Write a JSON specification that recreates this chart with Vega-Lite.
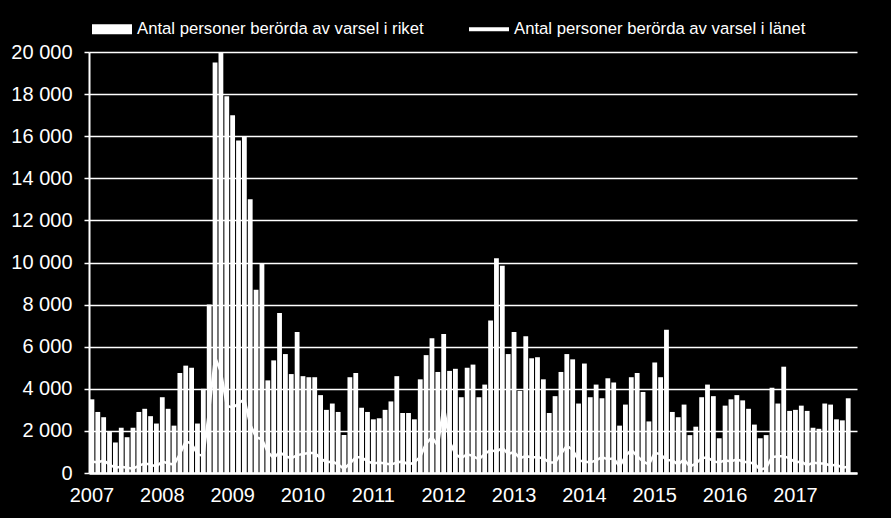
{
  "$schema": "https://vega.github.io/schema/vega-lite/v6.json",
  "width": 768,
  "height": 421,
  "autosize": {"type": "none"},
  "padding": {"left": 89, "top": 52, "right": 34, "bottom": 45},
  "background": "black",
  "config": {"view": {"stroke": null}, "font": "Liberation Sans"},
  "data": {"values": [
    {"m":"2007-01","riket":3500,"lan":550},{"m":"2007-02","riket":2900,"lan":500},{"m":"2007-03","riket":2650,"lan":600},{"m":"2007-04","riket":1950,"lan":400},{"m":"2007-05","riket":1450,"lan":250},{"m":"2007-06","riket":2150,"lan":300},{"m":"2007-07","riket":1700,"lan":250},{"m":"2007-08","riket":2150,"lan":200},{"m":"2007-09","riket":2900,"lan":350},{"m":"2007-10","riket":3050,"lan":450},{"m":"2007-11","riket":2700,"lan":400},{"m":"2007-12","riket":2350,"lan":300},
    {"m":"2008-01","riket":3600,"lan":550},{"m":"2008-02","riket":3050,"lan":450},{"m":"2008-03","riket":2250,"lan":400},{"m":"2008-04","riket":4750,"lan":900},{"m":"2008-05","riket":5100,"lan":1500},{"m":"2008-06","riket":5000,"lan":1400},{"m":"2008-07","riket":2350,"lan":900},{"m":"2008-08","riket":4000,"lan":800},{"m":"2008-09","riket":8000,"lan":3000},{"m":"2008-10","riket":19500,"lan":5500},{"m":"2008-11","riket":19950,"lan":4800},{"m":"2008-12","riket":17900,"lan":3200},
    {"m":"2009-01","riket":17000,"lan":3100},{"m":"2009-02","riket":15800,"lan":3300},{"m":"2009-03","riket":16000,"lan":3500},{"m":"2009-04","riket":13000,"lan":2300},{"m":"2009-05","riket":8700,"lan":1700},{"m":"2009-06","riket":9950,"lan":1600},{"m":"2009-07","riket":4400,"lan":1000},{"m":"2009-08","riket":5350,"lan":700},{"m":"2009-09","riket":7600,"lan":1000},{"m":"2009-10","riket":5650,"lan":800},{"m":"2009-11","riket":4700,"lan":700},{"m":"2009-12","riket":6700,"lan":850},
    {"m":"2010-01","riket":4600,"lan":900},{"m":"2010-02","riket":4550,"lan":950},{"m":"2010-03","riket":4550,"lan":950},{"m":"2010-04","riket":3700,"lan":700},{"m":"2010-05","riket":3000,"lan":500},{"m":"2010-06","riket":3300,"lan":550},{"m":"2010-07","riket":2900,"lan":400},{"m":"2010-08","riket":1800,"lan":200},{"m":"2010-09","riket":4550,"lan":450},{"m":"2010-10","riket":4750,"lan":750},{"m":"2010-11","riket":3100,"lan":750},{"m":"2010-12","riket":2900,"lan":550},
    {"m":"2011-01","riket":2550,"lan":450},{"m":"2011-02","riket":2600,"lan":500},{"m":"2011-03","riket":3000,"lan":450},{"m":"2011-04","riket":3400,"lan":400},{"m":"2011-05","riket":4600,"lan":500},{"m":"2011-06","riket":2850,"lan":550},{"m":"2011-07","riket":2850,"lan":400},{"m":"2011-08","riket":2550,"lan":500},{"m":"2011-09","riket":4450,"lan":770},{"m":"2011-10","riket":5600,"lan":1400},{"m":"2011-11","riket":6400,"lan":1700},{"m":"2011-12","riket":4800,"lan":1300},
    {"m":"2012-01","riket":6600,"lan":3200},{"m":"2012-02","riket":4850,"lan":1500},{"m":"2012-03","riket":4950,"lan":900},{"m":"2012-04","riket":3600,"lan":700},{"m":"2012-05","riket":5000,"lan":900},{"m":"2012-06","riket":5150,"lan":800},{"m":"2012-07","riket":3600,"lan":650},{"m":"2012-08","riket":4200,"lan":900},{"m":"2012-09","riket":7250,"lan":1100},{"m":"2012-10","riket":10200,"lan":1000},{"m":"2012-11","riket":9850,"lan":1200},{"m":"2012-12","riket":5650,"lan":900},
    {"m":"2013-01","riket":6700,"lan":1000},{"m":"2013-02","riket":3900,"lan":700},{"m":"2013-03","riket":6500,"lan":800},{"m":"2013-04","riket":5450,"lan":750},{"m":"2013-05","riket":5500,"lan":750},{"m":"2013-06","riket":4450,"lan":700},{"m":"2013-07","riket":2850,"lan":500},{"m":"2013-08","riket":3650,"lan":500},{"m":"2013-09","riket":4800,"lan":900},{"m":"2013-10","riket":5650,"lan":1300},{"m":"2013-11","riket":5400,"lan":1100},{"m":"2013-12","riket":3300,"lan":600},
    {"m":"2014-01","riket":5200,"lan":550},{"m":"2014-02","riket":3600,"lan":500},{"m":"2014-03","riket":4200,"lan":600},{"m":"2014-04","riket":3550,"lan":750},{"m":"2014-05","riket":4500,"lan":650},{"m":"2014-06","riket":4300,"lan":700},{"m":"2014-07","riket":2250,"lan":300},{"m":"2014-08","riket":3250,"lan":800},{"m":"2014-09","riket":4550,"lan":1100},{"m":"2014-10","riket":4750,"lan":800},{"m":"2014-11","riket":3850,"lan":550},{"m":"2014-12","riket":2450,"lan":400},
    {"m":"2015-01","riket":5250,"lan":950},{"m":"2015-02","riket":4550,"lan":900},{"m":"2015-03","riket":6800,"lan":600},{"m":"2015-04","riket":2900,"lan":600},{"m":"2015-05","riket":2650,"lan":400},{"m":"2015-06","riket":3250,"lan":650},{"m":"2015-07","riket":1800,"lan":300},{"m":"2015-08","riket":2200,"lan":450},{"m":"2015-09","riket":3600,"lan":700},{"m":"2015-10","riket":4200,"lan":750},{"m":"2015-11","riket":3650,"lan":550},{"m":"2015-12","riket":1650,"lan":500},
    {"m":"2016-01","riket":3200,"lan":600},{"m":"2016-02","riket":3500,"lan":550},{"m":"2016-03","riket":3700,"lan":650},{"m":"2016-04","riket":3450,"lan":550},{"m":"2016-05","riket":3050,"lan":500},{"m":"2016-06","riket":2300,"lan":450},{"m":"2016-07","riket":1650,"lan":150},{"m":"2016-08","riket":1800,"lan":250},{"m":"2016-09","riket":4050,"lan":750},{"m":"2016-10","riket":3300,"lan":800},{"m":"2016-11","riket":5050,"lan":800},{"m":"2016-12","riket":2950,"lan":700},
    {"m":"2017-01","riket":3000,"lan":500},{"m":"2017-02","riket":3200,"lan":550},{"m":"2017-03","riket":2950,"lan":350},{"m":"2017-04","riket":2150,"lan":500},{"m":"2017-05","riket":2100,"lan":450},{"m":"2017-06","riket":3300,"lan":450},{"m":"2017-07","riket":3250,"lan":350},{"m":"2017-08","riket":2550,"lan":400},{"m":"2017-09","riket":2500,"lan":250},{"m":"2017-10","riket":3550,"lan":300}
  ]},
  "encoding": {
    "x": {
      "field": "m",
      "type": "ordinal",
      "scale": {"paddingInner": 0.18, "paddingOuter": 0.09, "domain": {"unionWith": ["2017-11"]}},
      "axis": {
        "title": null,
        "labelExpr": "slice(datum.value, 5) == '01' ? slice(datum.value, 0, 4) : ''",
        "labelAngle": 0,
        "labelFontSize": 20,
        "labelColor": "white",
        "ticks": false,
        "tickSize": 0,
        "domainColor": "white",
        "domainWidth": 2.5,
        "labelPadding": 12,
        "grid": false,
        "labelBound": false,
        "labelOverlap": false
      }
    }
  },
  "layer": [
    {
      "mark": {"type": "bar", "color": "white"},
      "encoding": {
        "y": {
          "field": "riket",
          "type": "quantitative",
          "scale": {"domain": [0, 20000], "nice": false},
          "axis": {
            "title": null,
            "values": [0, 2000, 4000, 6000, 8000, 10000, 12000, 14000, 16000, 18000, 20000],
            "labelExpr": "replace(format(datum.value, ',d'), ',', ' ')",
            "labelFontSize": 20,
            "labelColor": "white",
            "grid": true,
            "gridColor": "white",
            "gridWidth": 1.5,
            "gridOpacity": 1,
            "domainColor": "white",
            "domainWidth": 2,
            "tickColor": "white",
            "tickSize": 5,
            "tickWidth": 1.5,
            "labelPadding": 12
          }
        },
        "color": {
          "datum": "Antal personer berörda av varsel i riket",
          "scale": {
            "domain": ["Antal personer berörda av varsel i riket", "Antal personer berörda av varsel i länet"],
            "range": ["white", "white"]
          },
          "legend": {
            "orient": "none",
            "legendX": 13,
            "legendY": -33,
            "direction": "horizontal",
            "title": null,
            "labelFontSize": 16.7,
            "labelColor": "white",
            "labelLimit": 0,
            "symbolSize": 400,
            "labelOffset": 15,
            "columnPadding": 45,
            "padding": 0,
            "symbolType": "square",
            "encode": {
              "symbols": {
                "update": {
                  "shape": {"signal": "datum.value == 'Antal personer berörda av varsel i riket' ? 'M-2,-0.5H2V0.5H-2Z' : 'M-2,-0.2H2V0.2H-2Z'"},
                  "fill": {"value": "white"},
                  "stroke": {"value": "white"},
                  "strokeWidth": {"value": 0},
                  "opacity": {"value": 1}
                }
              }
            }
          }
        }
      }
    },
    {
      "mark": {"type": "line", "color": "white", "strokeWidth": 2.5},
      "encoding": {
        "y": {"field": "lan", "type": "quantitative"},
        "color": {"datum": "Antal personer berörda av varsel i länet"}
      }
    }
  ]
}
